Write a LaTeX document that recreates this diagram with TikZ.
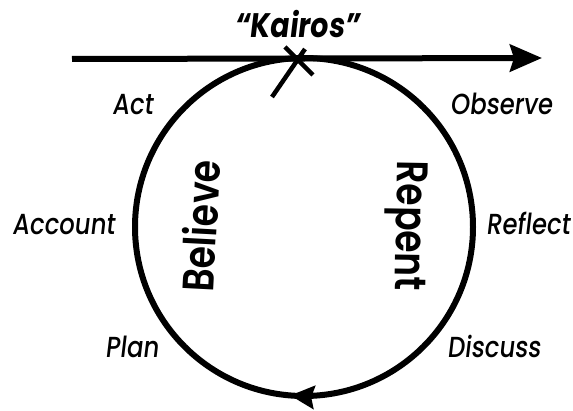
\documentclass[tikz,border=0pt]{standalone}
\usepackage{fontspec}
\setmainfont{Poppins}[FakeStretch=0.84]
\newfontfamily\labfont{Poppins}[FakeStretch=0.84,FakeSlant=0.12,UprightFont=* Medium,BoldFont=* Bold]
\newfontfamily\wordfont{Poppins}[FakeStretch=0.82,UprightFont=* SemiBold]
\usetikzlibrary{arrows.meta,decorations.markings}
\begin{document}
\begin{tikzpicture}[x=1pt,y=-1pt,
  lab/.style={font=\labfont\fontsize{29}{29}\selectfont, inner sep=0pt, anchor=base west},
  bigword/.style={font=\wordfont\fontsize{44}{44}\selectfont, inner sep=0pt},
  ink/.style={line width=6pt, black}]
\useasboundingbox (0,0) rectangle (573,411);
\fill[white] (0,0) rectangle (573,411);
\coordinate (c) at (304,227);
% cycle circle with arrowhead at the bottom
\draw[ink, postaction={decorate}, decoration={markings,
   mark=at position 0.263 with {\arrow{Stealth[length=24pt,width=23pt,inset=3pt]}}}]
   (c) ++(0:169) arc[start angle=0, end angle=360, radius=169];
% time line
\coordinate (ls) at (72,59);
\coordinate (le) at (542,58);
\draw[ink, -{Stealth[length=32pt,width=27pt,inset=4pt]}] (ls) -- (le);
% cross marking kairos
\coordinate (xa) at (285,47);
\coordinate (xb) at (313,75);
\coordinate (xc) at (305,49);
\coordinate (xd) at (272,97);
\draw[line width=4.5pt] (xa) -- (xb);
\draw[line width=4.5pt] (xc) -- (xd);
% labels
\node[font=\labfont\bfseries\fontsize{34}{34}\selectfont, inner sep=0pt, anchor=base] (kairos) at (297,38) {“Kairos”};
\node[lab] (act) at (112,115) {Act};
\node[lab] (observe) at (450,115) {Observe};
\node[lab] (account) at (12,235) {Account};
\node[lab] (reflect) at (486,235) {Reflect};
\node[lab] (plan) at (105,358) {Plan};
\node[lab] (discuss) at (447,358) {Discuss};
\node[bigword, rotate=87] (believe) at (200,226) {Believe};
\node[bigword, rotate=-91] (repent) at (406,226) {Repent};
\end{tikzpicture}
\end{document}
